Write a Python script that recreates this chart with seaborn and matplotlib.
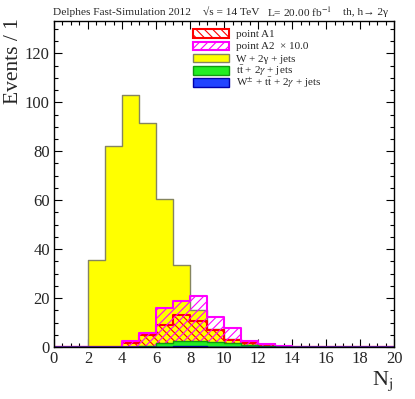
import numpy as np
import pandas as pd
import matplotlib
matplotlib.use("Agg")
import matplotlib.pyplot as plt
from matplotlib.patches import Rectangle
from matplotlib.ticker import MultipleLocator
import seaborn as sns

# Histogram contents, N_j bins 0..20 (width 1)
bin_edges = np.arange(0, 21)
bin_centers = bin_edges[:-1] + 0.5

point_a1 = [0, 0, 0, 0.2, 1.8, 4.9, 9.2, 13.2, 10.8, 7.0, 3.0, 1.7, 0.5, 0.1, 0, 0, 0, 0, 0, 0]
point_a2_x10 = [0, 0, 0, 0.2, 2.4, 5.6, 16.0, 19.0, 21.0, 12.4, 7.9, 2.6, 1.3, 0.3, 0.1, 0, 0, 0, 0, 0]
w_2g_jets = [0, 0, 35.5, 82, 103, 91.5, 60.5, 33.5, 15.1, 7.6, 3.5, 1.5, 0.5, 0, 0, 0, 0, 0, 0, 0]
tt_2g_jets = [0, 0, 0, 0, 0.2, 0.5, 1.5, 2.6, 2.6, 2.2, 1.8, 1.0, 0.3, 0, 0, 0, 0, 0, 0, 0]
wtt_2g_jets = [0, 0, 0, 0, 0, 0.1, 0.2, 0.3, 0.3, 0.2, 0.1, 0.1, 0, 0, 0, 0, 0, 0, 0, 0]

labels = [
    "point A1",
    "point A2  \u00d7 10.0",
    "W + 2\u03b3 + jets",
    r"t$\bar{\rm t}$ + 2$\gamma$ + jets",
    r"W$^{\pm}$ + t$\bar{\rm t}$ + 2$\gamma$ + jets",
]

sns.set_style("ticks")
plt.rcParams["font.family"] = ["Liberation Serif", "DejaVu Serif"]
plt.rcParams["mathtext.fontset"] = "stix"
plt.rcParams["hatch.linewidth"] = 0.8

fig = plt.figure(figsize=(4.15, 3.99), dpi=100)
ax = fig.add_axes([0.130, 0.130, 0.820, 0.818])

styles = [
    dict(color="#ff0000", facecolor="none", edgecolor="#ff0000", linewidth=1.5, hatch="\\\\\\\\"),
    dict(color="#ff00ff", facecolor="none", edgecolor="#ff00ff", linewidth=1.5, hatch="////"),
    dict(color="#858560", facecolor="#ffff00", edgecolor="#858560", linewidth=1.0),
    dict(color="#119911", facecolor="#22ee22", edgecolor="#119911", linewidth=1.0),
    dict(color="#0000aa", facecolor="#2244ff", edgecolor="#0000aa", linewidth=1.0),
]
series = [point_a1, point_a2_x10, w_2g_jets, tt_2g_jets, wtt_2g_jets]

# draw order: W first (filled), then signals (hatched), then small fills
for idx in [2, 0, 1, 3, 4]:
    df = pd.DataFrame({"nj": bin_centers, "w": series[idx]})
    sns.histplot(data=df, x="nj", weights="w", binwidth=1, binrange=(0, 20),
                 element="step", fill=True, ax=ax, **styles[idx])

ax.set_xlim(0, 20)
ax.set_ylim(0, 133.3)

ax.xaxis.set_major_locator(MultipleLocator(2))
ax.xaxis.set_minor_locator(MultipleLocator(0.5))
ax.yaxis.set_major_locator(MultipleLocator(20))
ax.yaxis.set_minor_locator(MultipleLocator(5))
ax.tick_params(which="both", direction="in", top=True, right=True, labelsize=12,
               width=0.8, color="black", pad=3)
ax.tick_params(which="major", length=6)
ax.tick_params(which="minor", length=3)
for s in ax.spines.values():
    s.set_linewidth(1.0)
    s.set_color("black")

ax.set_xlabel("")
ax.set_ylabel("")
fig.text(393 / 415, 1 - 381 / 399, r"N$_{\rm j}$", fontsize=16, ha="right", va="center")
fig.text(13 / 415, 1 - 18 / 399, "Events / 1", fontsize=15.5, rotation=90,
         ha="center", va="top")

# header line
hy = 1 - 12.5 / 399
fig.text(53 / 415, hy, "Delphes Fast-Simulation 2012", fontsize=8.2, va="center")
fig.text(203 / 415, hy, "\u221as = 14 TeV", fontsize=8.2, va="center")
fig.text(267 / 415, hy, r"L= 20.00 fb$^{-1}$", fontsize=8.2, va="center")
fig.text(343 / 415, hy, "th, h\u2192 2\u03b3", fontsize=8.2, va="center")

# legend box drawn by hand (ROOT TLegend look)
row_y = [33.5, 45.8, 58.0, 70.3, 82.5]
for st, lab, yc in zip(styles, labels, row_y):
    fy = 1 - yc / 399
    box = Rectangle((193 / 415, fy - 4.3 / 399), 36 / 415, 8.6 / 399,
                    transform=fig.transFigure, facecolor="white" if st["facecolor"] == "none" else st["facecolor"],
                    edgecolor=st["edgecolor"], linewidth=st["linewidth"],
                    hatch=st.get("hatch"))
    fig.patches.append(box)
    fig.text(236 / 415, 1 - (yc + 3.6) / 399, lab, fontsize=8.0, va="baseline", ha="left")

fig.savefig("out.png", dpi=100)
